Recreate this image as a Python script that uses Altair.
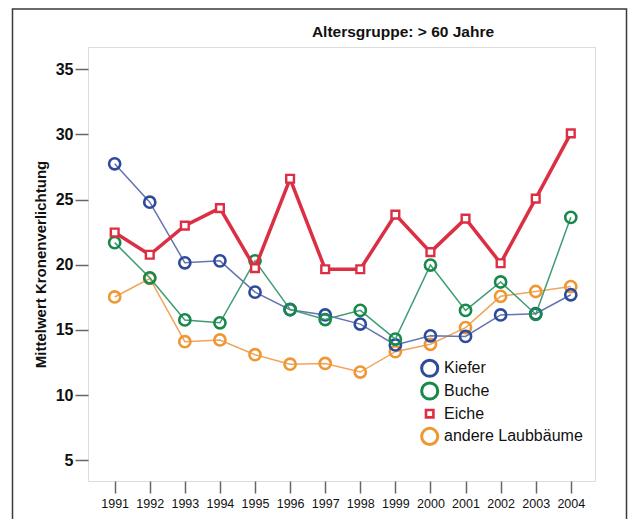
import altair as alt
import pandas as pd

years = list(range(1991, 2005))
series_names = ["Kiefer", "Buche", "Eiche", "andere Laubbäume"]
kiefer = [27.75, 24.8, 20.15, 20.3, 17.9, 16.55, 16.15, 15.45, 13.85, 14.55, 14.5, 16.15, 16.25, 17.7]
buche = [21.7, 19.0, 15.77, 15.55, 20.3, 16.58, 15.8, 16.5, 14.3, 19.98, 16.5, 18.68, 16.2, 23.64]
eiche = [22.48, 20.77, 23.0, 24.35, 19.74, 26.6, 19.66, 19.66, 23.85, 20.97, 23.54, 20.12, 25.08, 30.08]
andere = [17.53, 18.95, 14.1, 14.23, 13.1, 12.37, 12.43, 11.77, 13.33, 13.9, 15.18, 17.58, 17.95, 18.33]
y_ticks = [5, 10, 15, 20, 25, 30, 35]
title_text = "Altersgruppe: > 60 Jahre"
y_title = "Mittelwert Kronenverlichtung"

FONT = "Liberation Sans"

values = {"Kiefer": kiefer, "Buche": buche, "Eiche": eiche, "andere Laubbäume": andere}
style = {
    "Kiefer": dict(mc="#2e4b9b", lc="#6474b2", lw=1.5, shape="circle"),
    "Buche": dict(mc="#17894a", lc="#3f9c72", lw=1.5, shape="circle"),
    "Eiche": dict(mc="#dc2f43", lc="#dc2f43", lw=3.5, shape="square"),
    "andere Laubbäume": dict(mc="#ee9733", lc="#f0a55a", lw=1.5, shape="circle"),
}
draw_order = ["andere Laubbäume", "Kiefer", "Buche", "Eiche"]

x_scale = alt.Scale(domain=[1990.24, 2004.69], nice=False, zero=False)
y_scale = alt.Scale(domain=[3.41, 36.71], nice=False, zero=False)

x_axis = alt.Axis(values=years, format="d", title=None, grid=False, domain=False,
                  tickSize=12, tickColor="#666666", tickWidth=1.5,
                  labelFontSize=12.5, labelColor="#111111", labelPadding=4, labelFont=FONT)
y_axis = alt.Axis(values=y_ticks, title=y_title, grid=False, domain=False,
                  tickSize=13, tickColor="#666666", tickWidth=1.5,
                  labelFontSize=16, labelFontWeight="bold", labelColor="#111111",
                  labelPadding=2, labelFont=FONT,
                  titleFont=FONT, titleFontSize=15, titleFontWeight="bold",
                  titleColor="#111111", titlePadding=7)

xe = alt.X("year:Q", scale=x_scale, axis=x_axis)
ye = alt.Y("value:Q", scale=y_scale, axis=y_axis)

layers = []

for name in draw_order:
    st = style[name]
    df = pd.DataFrame({"year": years, "value": values[name], "series": name})
    line = alt.Chart(df).mark_line(color=st["lc"], strokeWidth=st["lw"]).encode(x=xe, y=ye)
    if st["shape"] == "circle":
        pts = alt.Chart(df).mark_point(shape="circle", filled=False, color=st["mc"],
                                       strokeWidth=2.6, size=125, opacity=1).encode(x=xe, y=ye)
    else:
        pts = alt.Chart(df).mark_point(shape="square", filled=False, stroke=st["mc"],
                                       fill="#ffffff", fillOpacity=1,
                                       strokeWidth=2.4, size=60, opacity=1).encode(x=xe, y=ye)
    layers += [line, pts]

# manual legend
for i, name in enumerate(series_names):
    st = style[name]
    ldf = pd.DataFrame({"label": [name]})
    yy = 321.3 + 22.7 * i
    if st["shape"] == "circle":
        sym = alt.Chart(ldf).mark_point(shape="circle", filled=False, color=st["mc"],
                                        strokeWidth=3, size=260, opacity=1)
    else:
        sym = alt.Chart(ldf).mark_point(shape="square", filled=False, color=st["mc"],
                                        strokeWidth=2.6, size=55, opacity=1)
    sym = sym.encode(x=alt.value(341.7), y=alt.value(yy))
    txt = alt.Chart(ldf).mark_text(align="left", baseline="middle", font=FONT,
                                   fontSize=16, color="#111111").encode(
        x=alt.value(356), y=alt.value(yy), text="label:N")
    layers += [sym, txt]

# chart title as text
tdf = pd.DataFrame({"t": [title_text]})
title = alt.Chart(tdf).mark_text(align="center", baseline="middle", font=FONT,
                                 fontSize=15.5, fontWeight="bold", color="#111111").encode(
    x=alt.value(315), y=alt.value(-15), text="t:N")
layers.append(title)

# outer frame (decorative border)
border = alt.Chart(pd.DataFrame({"a": [0]})).mark_rect(
    fillOpacity=0, stroke="#3a3a3a", strokeWidth=1.5
).encode(x=alt.value(-75.5), x2=alt.value(538.5), y=alt.value(-38), y2=alt.value(520))
layers.append(border)

chart = alt.layer(*layers).properties(
    width=507, height=434,
    autosize=alt.AutoSizeParams(type="none"),
    padding={"left": 80, "top": 39, "right": 33, "bottom": 38},
).configure_view(stroke="#7e7e7e", strokeWidth=2).configure(background="#ffffff")

chart.save("out.html", embed_options={"renderer": "svg", "actions": False})
